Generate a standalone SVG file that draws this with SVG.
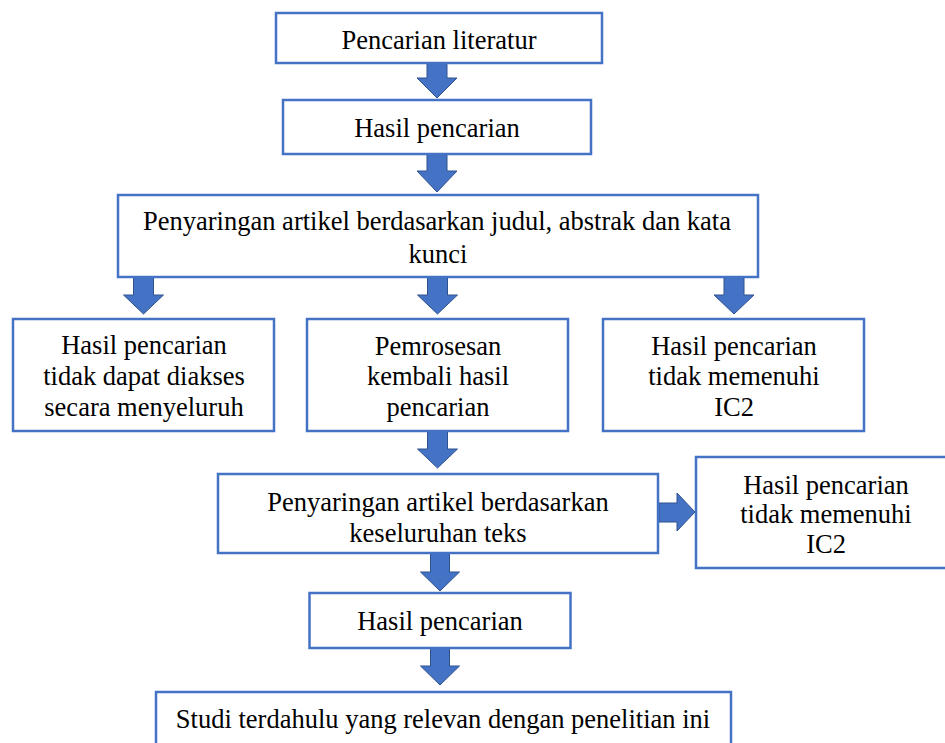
<svg xmlns="http://www.w3.org/2000/svg" width="945" height="743" viewBox="0 0 945 743">
<style>
.box{fill:#fff;stroke:#4472C4;stroke-width:2.5}
.t{font-family:'Liberation Serif',Tinos,'Times New Roman',Times,'Nimbus Roman','Nimbus Roman No9 L','DejaVu Serif','Noto Serif',FreeSerif,serif;font-size:26.5px;fill:#000;text-anchor:middle}
.arr{fill:#4472C4;stroke:#2F528F;stroke-width:1}
</style>
<rect width="945" height="743" fill="#fff"/>
<g id="connectors">
<polygon class="arr" points="427,63 447,63 447,78 457,78 437,98 417,78 427,78"/>
<polygon class="arr" points="427,154 447,154 447,171 457,171 437,192 417,171 427,171"/>
<polygon class="arr" points="133.5,277 153.5,277 153.5,295 163.5,295 143.5,314 123.5,295 133.5,295"/>
<polygon class="arr" points="427.5,277 447.5,277 447.5,295 457.5,295 437.5,314 417.5,295 427.5,295"/>
<polygon class="arr" points="724,277 744,277 744,295 754,295 734,314 714,295 724,295"/>
<polygon class="arr" points="427.5,431 447.5,431 447.5,449 457.5,449 437.5,468 417.5,449 427.5,449"/>
<polygon class="arr" points="659,503 677,503 677,493 695,512 677,531 677,522 659,522"/>
<polygon class="arr" points="430.5,553 449.5,553 449.5,572 459.5,572 440,591 420.5,572 430.5,572"/>
<polygon class="arr" points="430.5,648 449.5,648 449.5,666 459.5,666 440,685 420.5,666 430.5,666"/>
</g>
<g id="n1"><rect class="box" x="276" y="13" width="326" height="50"/><text class="t" x="439" y="49">Pencarian literatur</text></g>
<g id="n2"><rect class="box" x="283" y="100" width="308" height="54"/><text class="t" x="437" y="137">Hasil pencarian</text></g>
<g id="n3"><rect class="box" x="118" y="195" width="640" height="82"/><text class="t" x="437" y="230">Penyaringan artikel berdasarkan judul, abstrak dan kata</text><text class="t" x="438" y="263">kunci</text></g>
<g id="n4"><rect class="box" x="13" y="319" width="261" height="112"/><text class="t" x="144" y="354">Hasil pencarian</text><text class="t" x="144" y="385">tidak dapat diakses</text><text class="t" x="144" y="416">secara menyeluruh</text></g>
<g id="n5"><rect class="box" x="307" y="319" width="261" height="112"/><text class="t" x="438" y="355">Pemrosesan</text><text class="t" x="438" y="385">kembali hasil</text><text class="t" x="438" y="416">pencarian</text></g>
<g id="n6"><rect class="box" x="603" y="319" width="261" height="112"/><text class="t" x="734" y="355">Hasil pencarian</text><text class="t" x="734" y="385">tidak memenuhi</text><text class="t" x="734" y="416">IC2</text></g>
<g id="n7"><rect class="box" x="218" y="474" width="440" height="79"/><text class="t" x="438" y="511">Penyaringan artikel berdasarkan</text><text class="t" x="438" y="542">keseluruhan teks</text></g>
<g id="n8"><rect class="box" x="696" y="457" width="260" height="111"/><text class="t" x="826" y="494">Hasil pencarian</text><text class="t" x="826" y="523">tidak memenuhi</text><text class="t" x="826" y="553">IC2</text></g>
<g id="n9"><rect class="box" x="309.5" y="593" width="261" height="55"/><text class="t" x="440" y="630">Hasil pencarian</text></g>
<g id="n10"><rect class="box" x="156" y="692" width="575" height="70"/><text class="t" x="443" y="728">Studi terdahulu yang relevan dengan penelitian ini</text></g>
</svg>
